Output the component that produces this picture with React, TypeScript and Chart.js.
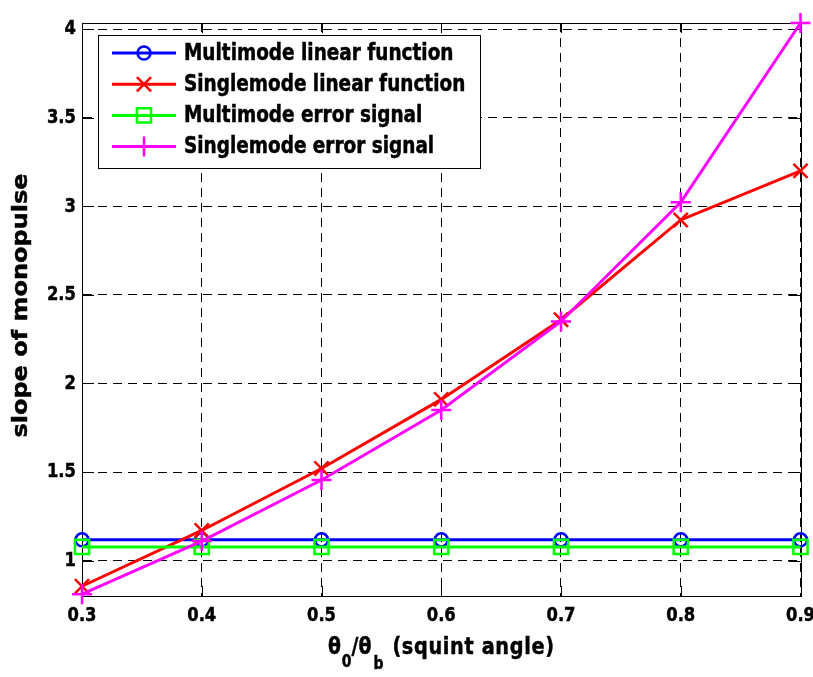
import { useEffect, useRef } from "react";
import { Chart, registerables } from "chart.js";
import { drawPoint } from "chart.js/helpers";

Chart.register(...registerables);

// squint angle theta0/thetab
const angles = [0.3, 0.4, 0.5, 0.6, 0.7, 0.8, 0.9];

const multimodeLinear = [1.117, 1.117, 1.117, 1.117, 1.117, 1.117, 1.117];
const singlemodeLinear = [0.855, 1.17, 1.52, 1.91, 2.36, 2.923, 3.2];
const multimodeError = [1.077, 1.077, 1.077, 1.077, 1.077, 1.077, 1.077];
const singlemodeError = [0.81, 1.11, 1.455, 1.85, 2.35, 3.023, 4.035];

const seriesNames = [
  "Multimode linear function",
  "Singlemode linear function",
  "Multimode error signal",
  "Singlemode error signal",
];

const xTicks = [0.3, 0.4, 0.5, 0.6, 0.7, 0.8, 0.9];
const yTicks = [1, 1.5, 2, 2.5, 3, 3.5, 4];
const yMin = 0.8;
const yMax = 4.035;

const FONT = "'DejaVu Sans', Verdana, sans-serif";
// the original figure is squeezed sideways, so is its text
const SQUEEZE = 0.82;

const styles = [
  { color: "#0000ff", pointStyle: "circle", radius: 6.5 },
  { color: "#ff0000", pointStyle: "crossRot", radius: 10 },
  { color: "#00ff00", pointStyle: "rect", radius: 10 },
  { color: "#ff00ff", pointStyle: "cross", radius: 10 },
];

function squeezed(
  ctx: CanvasRenderingContext2D,
  text: string,
  x: number,
  y: number,
  size: number,
  align: CanvasTextAlign,
  baseline: CanvasTextBaseline
) {
  ctx.save();
  ctx.translate(x, y);
  ctx.scale(SQUEEZE, 1);
  ctx.font = `bold ${size}px ${FONT}`;
  ctx.textAlign = align;
  ctx.textBaseline = baseline;
  ctx.fillStyle = "#000";
  ctx.strokeStyle = "#000";
  ctx.lineWidth = 0.5;
  ctx.fillText(text, 0, 0);
  ctx.strokeText(text, 0, 0);
  ctx.restore();
}

const matlabAxes = {
  id: "matlabAxes",
  beforeDatasetsDraw(chart: any) {
    const { ctx, chartArea } = chart;
    const { left, right, top, bottom } = chartArea;
    const xs = chart.scales.x;
    const ys = chart.scales.y;
    ctx.save();
    ctx.strokeStyle = "#000";
    ctx.lineWidth = 1;
    ctx.setLineDash([]);
    ctx.strokeRect(
      Math.round(left) + 0.5,
      Math.round(top) + 0.5,
      Math.round(right - left),
      Math.round(bottom - top)
    );
    ctx.beginPath();
    xs.ticks.forEach((t: any) => {
      const px = Math.round(xs.getPixelForValue(t.value)) + 0.5;
      ctx.moveTo(px, bottom);
      ctx.lineTo(px, bottom - 10);
      ctx.moveTo(px, top);
      ctx.lineTo(px, top + 10);
    });
    ys.ticks.forEach((t: any) => {
      const py = Math.round(ys.getPixelForValue(t.value)) + 0.5;
      ctx.moveTo(left, py);
      ctx.lineTo(left + 12, py);
      ctx.moveTo(right, py);
      ctx.lineTo(right - 12, py);
    });
    ctx.stroke();
    ctx.restore();
  },
  afterDraw(chart: any) {
    const { ctx, chartArea } = chart;
    const xs = chart.scales.x;
    const ys = chart.scales.y;

    // tick labels
    xs.ticks.forEach((t: any) => {
      squeezed(ctx, t.value.toFixed(1), xs.getPixelForValue(t.value), chartArea.bottom + 25, 20, "center", "alphabetic");
    });
    ys.ticks.forEach((t: any) => {
      squeezed(ctx, String(t.value), chartArea.left - 6, ys.getPixelForValue(t.value), 20, "right", "middle");
    });

    // y title
    ctx.save();
    ctx.translate(21, (chartArea.top + chartArea.bottom) / 2 - 4);
    ctx.rotate(-Math.PI / 2);
    ctx.scale(1, 0.9);
    ctx.font = `bold 24px ${FONT}`;
    ctx.textAlign = "center";
    ctx.textBaseline = "middle";
    ctx.fillStyle = "#000";
    ctx.strokeStyle = "#000";
    ctx.lineWidth = 0.5;
    ctx.fillText("slope of monopulse", 0, 0);
    ctx.strokeText("slope of monopulse", 0, 0);
    ctx.restore();

    // x title with subscripts
    const parts = [
      { t: "\u03b8", size: 23, dy: 0, gap: 1 },
      { t: "0", size: 17, dy: 13, gap: 0 },
      { t: "/\u03b8", size: 23, dy: 0, gap: 2 },
      { t: "b", size: 17, dy: 15, gap: 9 },
      { t: "(squint angle)", size: 23.5, dy: 0, gap: 0, spacing: 0.8 },
    ];
    ctx.save();
    const widths = parts.map((p) => {
      ctx.font = `bold ${p.size}px ${FONT}`;
      (ctx as any).letterSpacing = `${p.spacing || 0}px`;
      return ctx.measureText(p.t).width * SQUEEZE + p.gap;
    });
    ctx.restore();
    const total = widths.reduce((a, b) => a + b, 0);
    let x = (chartArea.left + chartArea.right) / 2 - total / 2;
    const base = chartArea.bottom + 58;
    parts.forEach((p, i) => {
      ctx.save();
      ctx.translate(x, base + p.dy);
      ctx.scale(SQUEEZE, 1);
      ctx.font = `bold ${p.size}px ${FONT}`;
      (ctx as any).letterSpacing = `${p.spacing || 0}px`;
      ctx.textAlign = "left";
      ctx.textBaseline = "alphabetic";
      ctx.fillStyle = "#000";
      ctx.strokeStyle = "#000";
      ctx.lineWidth = 0.5;
      ctx.fillText(p.t, 0, 0);
      ctx.strokeText(p.t, 0, 0);
      ctx.restore();
      x += widths[i];
    });

    // legend
    const box = { x: 98, y: 35, w: 382, h: 133 };
    ctx.save();
    ctx.fillStyle = "#fff";
    ctx.fillRect(box.x, box.y, box.w, box.h);
    ctx.strokeStyle = "#000";
    ctx.lineWidth = 1;
    ctx.strokeRect(box.x + 0.5, box.y + 0.5, box.w, box.h);
    ctx.restore();
    seriesNames.forEach((name, i) => {
      const st = styles[i];
      const cy = 53 + i * 31.2;
      ctx.save();
      ctx.strokeStyle = st.color;
      ctx.lineWidth = 3;
      ctx.beginPath();
      ctx.moveTo(112, cy);
      ctx.lineTo(176, cy);
      ctx.stroke();
      ctx.lineWidth = 2.5;
      ctx.fillStyle = "rgba(0,0,0,0)";
      drawPoint(ctx, { pointStyle: st.pointStyle as any, radius: st.radius, rotation: 0, borderWidth: 2.5 }, 144, cy);
      ctx.restore();
      squeezed(ctx, name, 184, cy + 1, 22.5, "left", "middle");
    });
  },
};

export default function App() {
  const canvasRef = useRef<HTMLCanvasElement | null>(null);
  const chartRef = useRef<Chart | null>(null);

  useEffect(() => {
    document.body.style.margin = "0";
    if (!canvasRef.current) return;
    if (chartRef.current) chartRef.current.destroy();

    const series = [multimodeLinear, singlemodeLinear, multimodeError, singlemodeError];
    const datasets = series.map((values, i) => ({
      label: seriesNames[i],
      data: angles.map((a, j) => ({ x: a, y: values[j] })),
      borderColor: styles[i].color,
      backgroundColor: "rgba(0,0,0,0)",
      borderWidth: 3,
      pointStyle: styles[i].pointStyle as any,
      pointRadius: styles[i].radius,
      pointBorderColor: styles[i].color,
      pointBackgroundColor: "rgba(0,0,0,0)",
      pointBorderWidth: 2.5,
      tension: 0,
      clip: false as any,
      // later series sit on top, as in the original
      order: series.length - i,
    }));

    chartRef.current = new Chart(canvasRef.current, {
      type: "line",
      data: { datasets },
      options: {
        animation: false,
        responsive: false,
        layout: { padding: { top: 23, right: 12, left: 0, bottom: 0 } },
        plugins: { legend: { display: false }, tooltip: { enabled: false } },
        scales: {
          x: {
            type: "linear",
            min: 0.3,
            max: 0.9,
            afterBuildTicks: (s: any) => {
              s.ticks = xTicks.map((v) => ({ value: v }));
            },
            afterFit: (s: any) => {
              s.height = 81;
            },
            ticks: { display: false },
            grid: { color: "#000", lineWidth: 1, drawTicks: false },
            border: { display: true, color: "#000", width: 1, dash: [9, 6] },
          },
          y: {
            type: "linear",
            min: yMin,
            max: yMax,
            afterBuildTicks: (s: any) => {
              s.ticks = yTicks.map((v) => ({ value: v }));
            },
            afterFit: (s: any) => {
              s.width = 82;
            },
            ticks: { display: false },
            grid: { color: "#000", lineWidth: 1, drawTicks: false },
            border: { display: true, color: "#000", width: 1, dash: [9, 6] },
          },
        },
      },
      plugins: [matlabAxes],
    });

    return () => {
      if (chartRef.current) {
        chartRef.current.destroy();
        chartRef.current = null;
      }
    };
  }, []);

  return (
    <div style={{ width: 813, height: 677, background: "#fff" }}>
      <canvas ref={canvasRef} width={813} height={677} style={{ display: "block" }} />
    </div>
  );
}
